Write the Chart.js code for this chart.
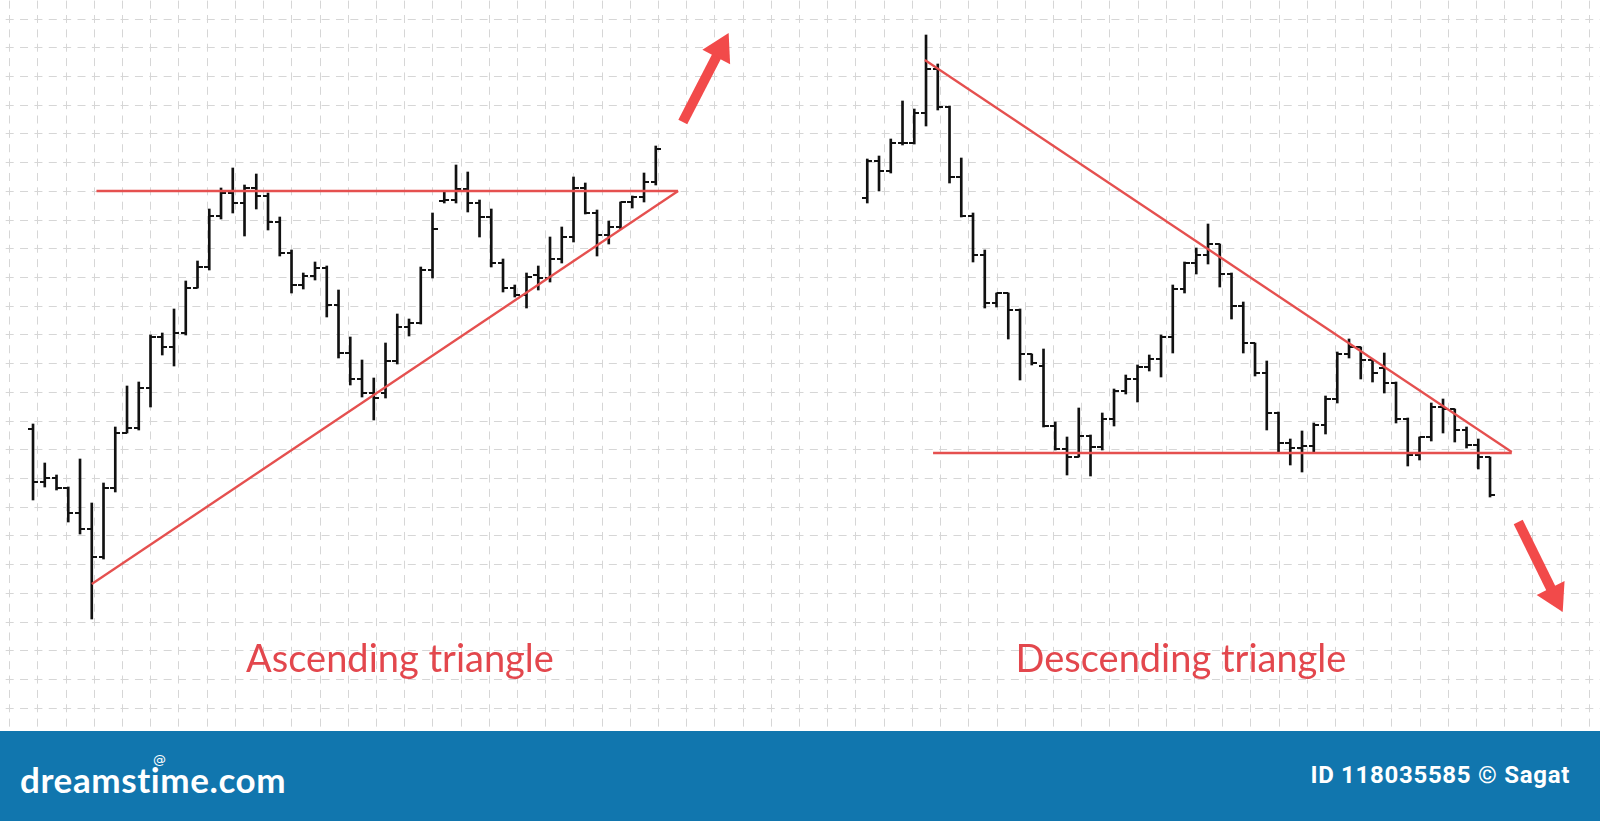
<!DOCTYPE html>
<html lang="en">
<head>
<meta charset="UTF-8">
<title>Ascending and descending triangle</title>
<script src="https://cdn.jsdelivr.net/npm/chart.js"></script>
<style>
    body {
        margin: 0;
        width: 1600px;
        height: 821px;
        overflow: hidden;
        background: #fff;
        position: relative;
    }

    .plot {
        position: absolute;
        left: 0;
        top: 0;
        width: 1600px;
        height: 731px;
    }

    .label {
        position: absolute;
        font-family: 'Lato', sans-serif;
        font-size: 38px;
        line-height: 1;
        color: #e3474d;
        white-space: nowrap;
        transform: translateX(-50%);
    }

    .band {
        position: absolute;
        left: 0;
        top: 731px;
        width: 1600px;
        height: 90px;
        background: #1176ae;
        color: #fff;
    }

    .logo {
        position: absolute;
        left: 20px;
        top: 31px;
        font-family: 'Lato', sans-serif;
        font-weight: bold;
        font-size: 35px;
        letter-spacing: 0.6px;
        line-height: 1;
    }

    .spiral {
        position: absolute;
        left: 153px;
        top: 22px;
        font-family: 'DejaVu Sans', sans-serif;
        font-size: 13px;
        line-height: 1;
    }

    .credit {
        position: absolute;
        right: 30px;
        top: 32px;
        font-family: Roboto, sans-serif;
        font-weight: bold;
        font-size: 24px;
        letter-spacing: 0.7px;
        line-height: 1;
    }
</style>
</head>
<body>
    <div class="plot"><canvas id="chart"></canvas></div>
    <div class="label" style="left: 400px; top: 638px;">Ascending triangle</div>
    <div class="label" style="left: 1181px; top: 638px;">Descending triangle</div>
    <div class="band">
        <span class="logo">dreamstime.com</span>
        <span class="spiral">@</span>
        <span class="credit">ID 118035585 © Sagat</span>
    </div>

<script>
// ascending triangle, one bar per session
const ascHigh  = [30.7, 26.8, 25.6, 24.4, 27.2, 22.8, 24.8, 30.4, 34.5, 34.9, 39.6, 39.8, 42.2, 45.0, 47.0, 52.2, 54.3, 56.3, 54.6, 55.7, 53.8, 51.4, 48.1, 45.8, 46.9, 46.5, 44.1, 39.4, 37.1, 35.3, 38.8, 41.7, 41.2, 46.4, 51.8, 53.9, 56.6, 55.9, 53.1, 52.2, 47.2, 44.6, 45.8, 46.5, 49.4, 50.4, 55.4, 54.8, 52.1, 51.0, 52.9, 53.5, 55.8, 58.5];
const ascLow   = [23.1, 24.4, 24.1, 20.9, 19.7, 11.2, 17.2, 23.9, 29.8, 30.1, 32.4, 37.6, 36.5, 39.6, 44.3, 46.1, 51.2, 51.8, 49.5, 52.2, 50.1, 47.5, 43.8, 44.2, 45.1, 41.4, 37.3, 34.6, 33.4, 31.1, 33.3, 36.7, 39.5, 40.7, 45.3, 52.8, 52.8, 51.9, 49.4, 46.4, 43.9, 43.4, 42.3, 44.1, 44.9, 46.8, 48.9, 51.7, 47.5, 48.7, 50.2, 52.3, 52.9, 54.6];
const ascOpen  = [30.2, 24.9, 25.3, 24.3, 21.8, 20.2, 17.4, 24.3, 29.8, 30.3, 34.3, 39.4, 38.4, 39.8, 44.3, 46.4, 51.5, 53.8, 52.8, 54.3, 53.5, 50.9, 47.8, 44.6, 45.5, 46.3, 42.6, 37.8, 35.2, 33.8, 33.8, 37.0, 40.4, 40.8, 46.1, 53.0, 53.1, 54.2, 52.8, 51.4, 46.8, 44.3, 43.6, 45.6, 45.3, 47.2, 49.4, 54.3, 51.8, 49.6, 50.4, 52.9, 53.4, 54.9];
const ascClose = [24.9, 25.3, 24.3, 21.8, 20.2, 17.4, 24.3, 29.8, 30.3, 34.3, 39.4, 38.4, 39.8, 44.3, 46.4, 51.5, 53.8, 52.8, 54.3, 53.5, 50.9, 47.8, 44.6, 45.5, 46.3, 42.6, 37.8, 35.2, 33.8, 33.3, 37.0, 40.4, 40.8, 46.1, 50.2, 53.1, 54.2, 52.8, 51.4, 46.8, 44.3, 43.6, 45.4, 45.3, 47.2, 49.4, 54.3, 51.8, 49.6, 50.4, 52.9, 53.4, 54.9, 58.2];

// descending triangle
const descHigh  = [57.2, 57.5, 59.2, 63.0, 62.2, 69.6, 66.7, 62.5, 57.3, 51.8, 48.1, 43.8, 43.8, 42.2, 37.7, 38.2, 30.9, 29.4, 32.3, 29.6, 31.8, 34.2, 35.6, 36.6, 37.6, 39.6, 44.6, 46.9, 48.3, 50.7, 48.7, 45.8, 42.9, 38.8, 37.0, 31.9, 29.2, 30.0, 30.8, 33.5, 37.9, 39.2, 38.4, 37.1, 37.8, 34.9, 31.3, 29.4, 32.8, 33.2, 32.2, 30.4, 29.2, 27.4];
const descLow   = [52.8, 54.0, 55.8, 58.6, 58.7, 60.5, 62.1, 54.8, 51.4, 46.9, 42.3, 42.4, 39.2, 35.1, 36.6, 30.4, 28.1, 25.6, 27.4, 25.5, 28.1, 30.5, 33.7, 32.9, 36.0, 35.4, 37.8, 43.8, 45.7, 46.7, 44.4, 41.2, 37.8, 35.5, 30.1, 27.8, 26.6, 25.9, 27.9, 29.7, 32.8, 37.3, 35.2, 34.9, 33.8, 30.8, 26.5, 27.1, 29.0, 29.8, 28.9, 28.3, 26.2, 23.4];
const descOpen  = [53.3, 57.0, 56.0, 58.8, 58.8, 61.8, 66.2, 62.4, 55.4, 51.5, 47.6, 42.8, 43.8, 42.1, 37.7, 36.5, 30.5, 28.2, 27.4, 29.5, 28.4, 31.2, 34.0, 35.2, 36.4, 37.2, 39.4, 44.2, 46.8, 47.6, 48.7, 45.7, 42.5, 38.8, 35.8, 31.8, 28.8, 28.3, 28.5, 30.6, 33.2, 37.7, 38.4, 37.1, 36.3, 34.8, 31.2, 27.6, 29.4, 32.4, 32.2, 30.1, 28.6, 27.4];
const descClose = [57.0, 56.0, 58.8, 58.8, 61.8, 66.2, 62.4, 55.4, 51.5, 47.6, 42.8, 43.8, 42.1, 37.7, 36.8, 30.5, 28.2, 27.4, 29.5, 28.4, 31.2, 34.0, 35.2, 36.4, 37.2, 39.4, 44.2, 46.8, 47.6, 48.7, 45.7, 42.5, 38.8, 35.8, 31.8, 28.8, 28.3, 28.5, 30.6, 33.2, 37.7, 38.4, 37.1, 35.8, 34.8, 31.2, 27.6, 29.4, 32.4, 32.2, 30.1, 28.6, 27.4, 23.6];
const DESC_START = 71;   // session number of the first bar on the right

// trend lines [session, price]
const ascResistance  = [[5.4, 54.0], [54.9, 54.0]];
const ascSupport     = [[5.0, 14.7], [54.9, 54.0]];
const descResistance = [[75.9, 67.1], [125.85, 27.9]];
const descSupport    = [[76.6, 27.8], [125.85, 27.8]];

// breakout arrows: tail, head centre, head angle
const upArrow   = [[55.3, 60.9], [58.5, 68.2]];
const downArrow = [[126.4, 20.9], [129.5, 13.5]];
const upAngle = 27.3, downAngle = 153.4;

const BAR_COLOR = '#111';
const LINE_COLOR = '#e5504f';
const ARROW_COLOR = '#f24a4a';

const ascX = ascHigh.map((_, i) => i);
const descX = descHigh.map((_, i) => DESC_START + i);

function wicks(xs, lo, hi) {
    return xs.map((x, i) => ({ x: x, y: [lo[i], hi[i]] }));
}

function marks(xs, vals) {
    return xs.map((x, i) => ({ x: x, y: vals[i] }));
}

function pts(arr) {
    return arr.map(p => ({ x: p[0], y: p[1] }));
}

// little horizontal tick used as point style: open on the left, close on the right
function tickImage(side) {
    const c = document.createElement('canvas');
    c.width = 10;
    c.height = 2;
    const g = c.getContext('2d');
    g.fillStyle = BAR_COLOR;
    g.fillRect(side === 'open' ? 0 : 5, 0, 5, 2);
    return c;
}
const openTick = tickImage('open');
const closeTick = tickImage('close');

function trend(data) {
    return {
        type: 'line', data: pts(data), xAxisID: 'x', yAxisID: 'y',
        borderColor: LINE_COLOR, borderWidth: 2.3, pointRadius: 0
    };
}

function arrow(data, angle) {
    return {
        type: 'line', data: pts(data), xAxisID: 'x', yAxisID: 'y',
        borderColor: ARROW_COLOR, borderWidth: 10,
        pointStyle: 'triangle', pointRadius: [0, 18], pointRotation: [0, angle],
        pointBackgroundColor: ARROW_COLOR, pointBorderWidth: 0
    };
}

function wickSet(xs, lo, hi) {
    return {
        type: 'bar', data: wicks(xs, lo, hi), xAxisID: 'x', yAxisID: 'y',
        backgroundColor: BAR_COLOR, barThickness: 2, grouped: false, borderWidth: 0
    };
}

function tickSet(xs, vals, img) {
    return {
        type: 'line', data: marks(xs, vals), xAxisID: 'x', yAxisID: 'y',
        showLine: false, pointStyle: img, pointRadius: 5
    };
}

const gridCommon = {
    display: true,
    ticks: { display: false, stepSize: 1, includeBounds: false },
    grid: { color: '#d6d6d6', lineWidth: 1, drawTicks: false }
};

new Chart(document.getElementById('chart'), {
    type: 'bar',
    data: {
        datasets: [
            arrow(upArrow, upAngle),
            arrow(downArrow, downAngle),
            trend(ascResistance),
            trend(ascSupport),
            trend(descResistance),
            trend(descSupport),
            tickSet(ascX, ascOpen, openTick),
            tickSet(ascX, ascClose, closeTick),
            tickSet(descX, descOpen, openTick),
            tickSet(descX, descClose, closeTick),
            wickSet(ascX, ascLow, ascHigh),
            wickSet(descX, descLow, descHigh)
        ]
    },
    options: {
        responsive: true,
        maintainAspectRatio: false,
        animation: false,
        events: [],
        layout: { padding: 0, autoPadding: false },
        plugins: {
            legend: { display: false },
            tooltip: { enabled: false }
        },
        scales: {
            x: { type: 'linear', display: false, offset: false, min: -2.81, max: 133.36 },
            y: { type: 'linear', display: false, min: 0, max: 73.1 },
            xGrid: Object.assign({}, gridCommon, {
                type: 'linear', axis: 'x', position: 'bottom', min: -0.338, max: 55.37,
                border: { display: false, dash: [8, 6.36], dashOffset: 13.72 }
            }),
            yGrid: Object.assign({}, gridCommon, {
                type: 'linear', axis: 'y', position: 'left', reverse: true, min: -0.662, max: 24.79,
                border: { display: false, dash: [8, 6.36], dashOffset: 8.66 }
            })
        }
    }
});
</script>
</body>
</html>
